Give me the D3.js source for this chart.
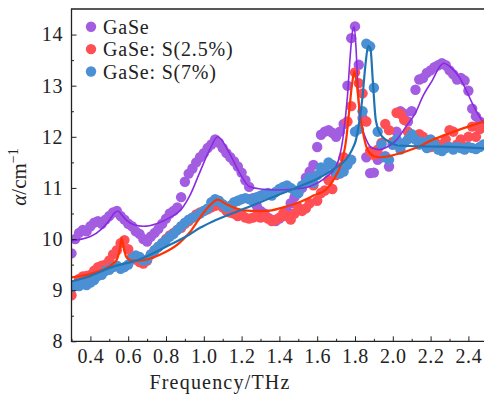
<!DOCTYPE html>
<html>
<head>
<meta charset="utf-8">
<script src="https://cdn.jsdelivr.net/npm/d3@7"></script>
<style>
  body { margin: 0; background: #fff; }
  svg text { font-family: "Liberation Serif", "Times New Roman", serif; fill: #222; }
</style>
</head>
<body>
<svg id="chart" width="484" height="396"></svg>
<script>
// measured points, one per 0.02 THz
const freq = [
  0.30, 0.32, 0.34, 0.36, 0.38, 0.40, 0.42, 0.44, 0.46, 0.48,
  0.50, 0.52, 0.54, 0.56, 0.58, 0.60, 0.62, 0.64, 0.66, 0.68,
  0.70, 0.72, 0.74, 0.76, 0.78, 0.80, 0.82, 0.84, 0.86, 0.88,
  0.90, 0.92, 0.94, 0.96, 0.98, 1.00, 1.02, 1.04, 1.06, 1.08,
  1.10, 1.12, 1.14, 1.16, 1.18, 1.20, 1.22, 1.24, 1.26, 1.28,
  1.30, 1.32, 1.34, 1.36, 1.38, 1.40, 1.42, 1.44, 1.46, 1.48,
  1.50, 1.52, 1.54, 1.56, 1.58, 1.60, 1.62, 1.64, 1.66, 1.68,
  1.70, 1.72, 1.74, 1.76, 1.78, 1.80, 1.82, 1.84, 1.86, 1.88,
  1.90, 1.92, 1.94, 1.96, 1.98, 2.00, 2.02, 2.04, 2.06, 2.08,
  2.10, 2.12, 2.14, 2.16, 2.18, 2.20, 2.22, 2.24, 2.26, 2.28,
  2.30, 2.32, 2.34, 2.36, 2.38, 2.40, 2.42, 2.44, 2.46, 2.48
];

const gaseData = [
  9.72, 10.0, 10.12, 10.18, 10.15, 10.25, 10.32, 10.35, 10.3, 10.38,
  10.45, 10.52, 10.55, 10.45, 10.38, 10.3, 10.25, 10.15, 10.1, 10.0,
  9.95, 10.05, 10.12, 10.2, 10.3, 10.4, 10.5, 10.55, 10.62, 10.82,
  11.12, 11.28, 11.38, 11.5, 11.6, 11.68, 11.78, 11.85, 11.95, 11.88,
  11.78, 11.68, 11.6, 11.52, 11.42, 11.3, 11.15, 11.02, 10.8, 10.65,
  10.55, 10.5, 10.42, 10.38, 10.35, 10.4, 10.45, 10.55, 10.7, 10.82,
  10.9, 11.0, 11.2, 11.32, 11.45, 11.8, 12.04, 12.1, 12.13, 12.08,
  12.0, 12.1, 12.25, 13.0, 13.93, 14.16, 13.41, 12.37, 11.6, 11.29,
  11.3, 11.55, 11.6, 11.62, 11.42, 11.85, 12.1, 12.5, 12.45, 12.3,
  12.5, 12.92, 13.12, 13.15, 13.25, 13.3, 13.36, 13.4, 13.44, 13.4,
  13.3, 13.22, 13.12, 13.15, 13.1, 12.9, 12.55, 12.4, 12.3, 12.2
];

const s25Data = [
  8.9, 9.1, 9.22, 9.27, 9.28, 9.3, 9.38, 9.45, 9.48, 9.5,
  9.58, 9.7, 9.78, 9.92, 9.98, 9.8, 9.65, 9.6, 9.55, 9.52,
  9.58, 9.7, 9.78, 9.85, 9.92, 10.0, 10.07, 10.12, 10.18, 10.22,
  10.3, 10.35, 10.42, 10.48, 10.52, 10.55, 10.58, 10.62, 10.65, 10.68,
  10.62, 10.55, 10.52, 10.5, 10.45, 10.48, 10.42, 10.4, 10.42, 10.45,
  10.42, 10.45, 10.4, 10.35, 10.38, 10.42, 10.5, 10.45, 10.38, 10.5,
  10.62, 10.55, 10.6, 10.7, 11.05, 10.75, 10.9, 10.95, 11.15, 10.98,
  11.25, 11.4, 11.6, 12.3, 12.6, 13.26, 13.05, 12.85, 12.3, 11.72,
  11.65, 11.75, 11.88, 12.25, 12.13, 11.9, 12.47, 12.45, 12.33, 12.1,
  12.0, 11.95, 12.05, 12.0, 11.85, 11.8, 11.9, 11.85, 11.75, 11.95,
  12.13, 12.1, 11.85, 11.95, 11.8, 12.0, 12.2, 12.0, 12.15, 12.22
];

const s7Data = [
  9.05, 9.1, 9.08, 9.12, 9.1, 9.15, 9.2, 9.28, 9.3, 9.38,
  9.4, 9.45, 9.48, 9.42, 9.45, 9.5, 9.62, 9.68, 9.65, 9.58,
  9.6, 9.7, 9.78, 9.85, 9.92, 9.98, 10.05, 10.1, 10.18, 10.25,
  10.32, 10.38, 10.42, 10.45, 10.5, 10.55, 10.6, 10.72, 10.78, 10.75,
  10.68, 10.62, 10.65, 10.72, 10.75, 10.78, 10.8, 10.78, 10.75, 10.82,
  10.85, 10.88, 10.9, 10.85, 10.92, 10.98, 11.02, 11.05, 11.0, 10.95,
  10.9, 11.05, 11.1, 11.2, 11.1, 11.25, 11.4, 11.35, 11.5, 11.45,
  11.3, 11.28, 11.32, 11.45, 11.55, 12.1, 12.15, 12.5, 13.82, 13.77,
  12.96, 12.1, 11.85, 11.6, 11.55, 11.85, 11.95, 11.75, 11.88, 11.95,
  12.05, 11.95, 11.85, 11.9, 11.78, 11.95, 11.85, 11.75, 11.72, 11.78,
  11.8, 11.75, 11.8, 11.78, 11.75, 11.8, 11.78, 11.76, 11.8, 11.85
];

// fitted curves
const gaseFitX = [0.30, 0.40, 0.46, 0.50, 0.53, 0.545, 0.56, 0.59, 0.63, 0.68, 0.75, 0.82, 0.88, 0.93, 0.977, 1.03, 1.074,
  1.135, 1.19, 1.24, 1.30, 1.38, 1.48, 1.56, 1.65, 1.70, 1.735, 1.76, 1.775, 1.788, 1.796, 1.806, 1.815, 1.823, 1.84,
  1.86, 1.89, 1.93, 1.97, 2.02, 2.07, 2.12, 2.16, 2.21, 2.25, 2.27, 2.30, 2.35, 2.39, 2.42, 2.47, 2.50];
const gaseFitY = [9.97, 10.05, 10.2, 10.37, 10.52, 10.55, 10.5, 10.37, 10.28, 10.25, 10.3, 10.42, 10.58, 10.88, 11.29, 11.74, 12.0,
  11.68, 11.29, 11.03, 10.98, 10.96, 10.98, 11.03, 11.22, 11.42, 11.94, 12.79, 13.6, 14.09, 14.15, 13.7, 13.0, 12.46, 12.15,
  11.94, 11.78, 11.75, 11.8, 11.94, 12.2, 12.47, 12.8, 13.11, 13.38, 13.44, 13.38, 13.18, 12.9, 12.66, 12.33, 12.2];

const s25FitX = [0.30, 0.40, 0.51, 0.54, 0.555, 0.565, 0.575, 0.59, 0.62, 0.66, 0.765, 0.87, 0.93, 0.98, 1.03, 1.075, 1.12,
  1.17, 1.25, 1.33, 1.42, 1.505, 1.58, 1.65, 1.70, 1.72, 1.753, 1.77, 1.785, 1.797, 1.81, 1.825, 1.84, 1.867, 1.90, 1.93,
  2.00, 2.12, 2.21, 2.30, 2.40, 2.50];
const s25FitY = [9.25, 9.32, 9.49, 9.6, 9.8, 10.02, 9.85, 9.65, 9.58, 9.58, 9.69, 9.92, 10.15, 10.42, 10.65, 10.77, 10.68,
  10.6, 10.55, 10.55, 10.62, 10.72, 10.85, 10.98, 11.25, 11.4, 11.94, 12.53, 13.05, 13.28, 13.0, 12.5, 12.13, 11.74, 11.62, 11.6,
  11.64, 11.78, 11.94, 12.07, 12.2, 12.32];

const s7FitX = [0.30, 0.40, 0.52, 0.66, 0.80, 0.92, 0.98, 1.05, 1.15, 1.24, 1.33, 1.42, 1.505, 1.60, 1.68, 1.75, 1.785,
  1.805, 1.825, 1.84, 1.855, 1.87, 1.882, 1.894, 1.91, 1.935, 1.965, 2.035, 2.20, 2.35, 2.50];
const s7FitY = [9.17, 9.28, 9.46, 9.6, 9.85, 10.08, 10.22, 10.35, 10.5, 10.63, 10.77, 10.9, 11.03, 11.18, 11.35, 11.55, 11.75,
  11.94, 12.35, 12.79, 13.4, 13.78, 13.72, 13.11, 12.33, 12.05, 11.94, 11.83, 11.81, 11.8, 11.77];

const seriesNames = ["GaSe", "GaSe: S(2.5%)", "GaSe: S(7%)"];
const xMajorTicks = [0.4, 0.6, 0.8, 1.0, 1.2, 1.4, 1.6, 1.8, 2.0, 2.2, 2.4];
const xMinorTicks = [0.3, 0.5, 0.7, 0.9, 1.1, 1.3, 1.5, 1.7, 1.9, 2.1, 2.3];
const yMajorTicks = [8, 9, 10, 11, 12, 13, 14];
const yMinorTicks = [8.5, 9.5, 10.5, 11.5, 12.5, 13.5];

const series = [
  { name: seriesNames[0], data: gaseData, fitX: gaseFitX, fitY: gaseFitY, dot: "#a35de0", line: "#8a2be2", lw: 1.6 },
  { name: seriesNames[1], data: s25Data, fitX: s25FitX, fitY: s25FitY, dot: "#ff4f55", line: "#ff3300", lw: 2.2 },
  { name: seriesNames[2], data: s7Data, fitX: s7FitX, fitY: s7FitY, dot: "#4b90d5", line: "#1f74b4", lw: 2.2 }
];

const svg = d3.select("#chart");
const margin = { top: 9, left: 71.5, bottom: 341.3, right: 484 };

const x = d3.scaleLinear().domain([0.3, 2.5]).range([margin.left, margin.left + 2.2 * 189]);
const y = d3.scaleLinear().domain([8, 14.5]).range([margin.bottom, margin.top]);

svg.append("defs").append("clipPath").attr("id", "plotClip")
  .append("rect")
  .attr("x", margin.left).attr("y", margin.top)
  .attr("width", margin.right - margin.left).attr("height", margin.bottom - margin.top);

const plot = svg.append("g").attr("clip-path", "url(#plotClip)");

// scatter points, drawn in legend order
series.forEach(s => {
  plot.append("g").selectAll("circle")
    .data(s.data)
    .enter().append("circle")
    .attr("cx", (d, i) => x(freq[i]))
    .attr("cy", d => y(d))
    .attr("r", 5.2)
    .attr("fill", s.dot);
});

// fitted lines on top
const line = d3.line()
  .x(d => x(d[0]))
  .y(d => y(d[1]))
  .curve(d3.curveMonotoneX);

series.forEach(s => {
  plot.append("path")
    .datum(s.fitX.map((v, i) => [v, s.fitY[i]]))
    .attr("fill", "none")
    .attr("stroke", s.line)
    .attr("stroke-width", s.lw)
    .attr("d", line);
});

// axes, ticks point inwards
svg.append("g").attr("transform", "translate(0," + margin.bottom + ")")
  .call(d3.axisBottom(x).tickValues(xMajorTicks).tickFormat(d3.format(".1f")).tickSize(-5).tickPadding(8));
svg.append("g").attr("transform", "translate(0," + margin.bottom + ")")
  .call(d3.axisBottom(x).tickValues(xMinorTicks).tickFormat("").tickSize(-2.5));

svg.append("g").attr("transform", "translate(" + margin.left + ",0)")
  .call(d3.axisLeft(y).tickValues(yMajorTicks).tickFormat(d3.format("d")).tickSize(-5).tickPadding(8.5));
svg.append("g").attr("transform", "translate(" + margin.left + ",0)")
  .call(d3.axisLeft(y).tickValues(yMinorTicks).tickFormat("").tickSize(-2.5));

svg.selectAll(".domain").remove();
svg.selectAll(".tick line").attr("stroke", "#222").attr("stroke-width", 1);
svg.selectAll(".tick text").attr("font-size", 20).attr("letter-spacing", 0.6).attr("fill", "#222");

// frame: left, bottom, top (right edge is cut off)
svg.append("path")
  .attr("d", "M" + margin.right + "," + margin.top + "H" + margin.left + "V" + margin.bottom + "H" + margin.right)
  .attr("fill", "none").attr("stroke", "#222").attr("stroke-width", 1.3);

// axis titles
svg.append("text")
  .attr("x", 220).attr("y", 389)
  .attr("text-anchor", "middle")
  .attr("font-size", 20)
  .attr("letter-spacing", 1.2)
  .text("Frequency/THz");

const yt = svg.append("text")
  .attr("transform", "translate(26,177) rotate(-90)")
  .attr("text-anchor", "middle")
  .attr("font-size", 21);
yt.append("tspan").attr("font-style", "italic").text("α");
yt.append("tspan").text("/cm");
yt.append("tspan").attr("font-size", 14).attr("dy", -8).text("−1");

// legend
const legend = svg.append("g");
series.forEach((s, i) => {
  const row = legend.append("g").attr("transform", "translate(0," + (26.7 + i * 22.4) + ")");
  row.append("circle").attr("cx", 91).attr("cy", 0).attr("r", 5.2).attr("fill", s.dot);
  row.append("text").attr("x", 103).attr("y", 7).attr("font-size", 20).attr("letter-spacing", 0.8).text(s.name);
});
</script>
</body>
</html>
